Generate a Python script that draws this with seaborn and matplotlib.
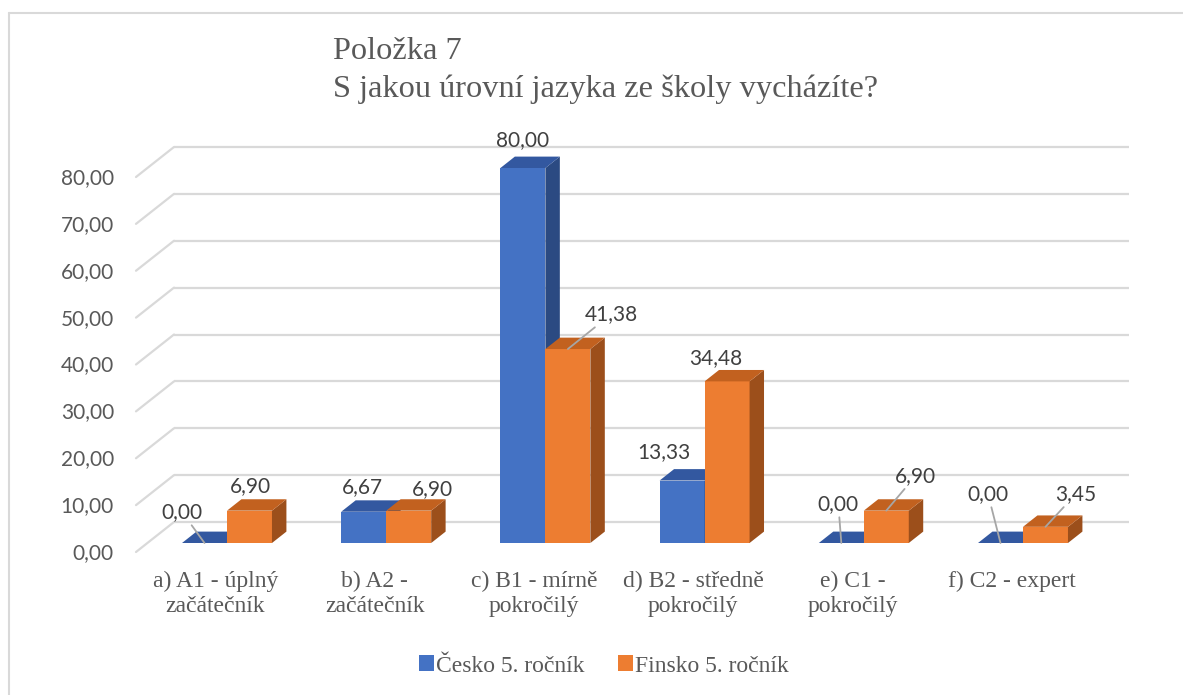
import numpy as np
import pandas as pd
import matplotlib
matplotlib.use("Agg")
import matplotlib.pyplot as plt
import seaborn as sns
from matplotlib.patches import Polygon
from matplotlib.lines import Line2D

# ---------------- data ----------------
categories = ["a) A1 - úplný\nzačátečník", "b) A2 -\nzačátečník", "c) B1 - mírně\npokročilý",
              "d) B2 - středně\npokročilý", "e) C1 -\npokročilý", "f) C2 - expert"]
series_names = ["Česko 5. ročník", "Finsko 5. ročník"]
cesko = [0.00, 6.67, 80.00, 13.33, 0.00, 0.00]
finsko = [6.90, 6.90, 41.38, 34.48, 6.90, 3.45]
y_ticks = [0, 10, 20, 30, 40, 50, 60, 70, 80]
title_text = "Položka 7\nS jakou úrovní jazyka ze školy vycházíte?"

# ---------------- style / layout ----------------
front_colors = ["#4472C4", "#ED7D31"]
top_colors = ["#3358A0", "#C2611F"]
side_colors = ["#2B4A82", "#9C4F1B"]
grid_color = "#D9D9D9"
text_color = "#595959"
label_color = "#404040"
SERIF = "Liberation Serif"
SANS = "Lato"

# label offsets in pixels (right, up) from bar front-top centre
lab_dx = [[-22.5, -1.5, 0.0, -18.5, -3.0, -12.5],
          [0.5, 23.5, 43.5, -11.5, 29.5, 30.5]]
lab_dy = [[31, 25, 28, 28.5, 39, 49],
          [25, 22, 35, 23, 35, 33]]
leader = [[True, False, False, False, True, True],
          [False, False, True, False, True, True]]

# depth geometry (pixels)
DEPTH = np.array([38.0, 30.0])
BAR_PLANE = 0.30
BAR_DEPTH = 0.38

sns.set_theme(style="white")
plt.rcParams["font.family"] = [SANS, "DejaVu Sans"]

W_PX, H_PX = 1183, 695
fig = plt.figure(figsize=(W_PX / 100, H_PX / 100), dpi=100)
ax = fig.add_axes([147.4 / W_PX, (H_PX - 543) / H_PX, 955.2 / W_PX, 375 / H_PX])

df = pd.DataFrame({
    "cat": categories * 2,
    "val": cesko + finsko,
    "series": [series_names[0]] * len(categories) + [series_names[1]] * len(categories),
})
sns.barplot(data=df, x="cat", y="val", hue="series", palette=front_colors,
            width=0.565, saturation=1, linewidth=0, ax=ax)
ax.set_xlim(-0.5, len(categories) - 0.5)
ax.set_ylim(0, 80)
ax.set_xticks([])
ax.set_yticks([])
ax.set_xlabel("")
ax.set_ylabel("")
sns.despine(ax=ax, left=True, bottom=True)
ax.patch.set_alpha(0)

p0 = ax.transData.transform((0, 0))
px_x = ax.transData.transform((1, 0))[0] - p0[0]
px_y = ax.transData.transform((0, 1))[1] - p0[1]
def dxd(p):
    return p / px_x
def dyd(p):
    return p / px_y

x0, x1 = ax.get_xlim()
wall = (1 - BAR_PLANE) * DEPTH
front = -BAR_PLANE * DEPTH
bd = BAR_DEPTH * DEPTH

# back wall gridlines and floor diagonals
for v in y_ticks:
    ax.plot([x0 + dxd(wall[0]), x1 + dxd(wall[0])], [v + dyd(wall[1])] * 2,
            color=grid_color, lw=1.6, zorder=0, clip_on=False, solid_capstyle="butt")
    ax.plot([x0 + dxd(front[0]), x0 + dxd(wall[0])], [v + dyd(front[1]), v + dyd(wall[1])],
            color=grid_color, lw=1.6, zorder=0, clip_on=False)
    ax.annotate(f"{v:.2f}".replace(".", ","), xy=(x0, v), xycoords="data",
                xytext=(front[0] - 22, front[1] - 1), textcoords="offset pixels",
                ha="right", va="center", fontsize=15, color=text_color,
                family=[SANS, "DejaVu Sans"], annotation_clip=False)

# 3D faces
ddx, ddy = dxd(bd[0]), dyd(bd[1])
series_vals = [cesko, finsko]
for s, cont in enumerate(ax.containers):
    zb = 2 + 3 * s
    for i, bar in enumerate(cont):
        x = bar.get_x()
        w = bar.get_width()
        h = bar.get_height()
        bar.set_zorder(zb)
        bar.set_clip_on(False)
        side = Polygon([(x + w, 0), (x + w + ddx, ddy), (x + w + ddx, h + ddy), (x + w, h)],
                       closed=True, facecolor=side_colors[s], edgecolor="none",
                       zorder=zb + 0.5, clip_on=False)
        top = Polygon([(x, h), (x + ddx, h + ddy), (x + w + ddx, h + ddy), (x + w, h)],
                      closed=True, facecolor=top_colors[s], edgecolor="none",
                      zorder=zb + 0.6, clip_on=False)
        ax.add_patch(side)
        ax.add_patch(top)
        val = series_vals[s][i]
        arrow = dict(arrowstyle="-", color="#A6A6A6", lw=1.3, shrinkA=0, shrinkB=0) if leader[s][i] else None
        ax.annotate(f"{val:.2f}".replace(".", ","), xy=(x + w / 2, h), xycoords="data",
                    xytext=(lab_dx[s][i], lab_dy[s][i]), textcoords="offset pixels",
                    ha="center", va="center", fontsize=15, color=label_color,
                    family=[SANS, "DejaVu Sans"], arrowprops=arrow,
                    annotation_clip=False, zorder=10)

# category labels
for i, cat in enumerate(categories):
    ax.annotate(cat, xy=(i, 0), xycoords="data",
                xytext=(front[0], front[1] - 19), textcoords="offset pixels",
                ha="center", va="top", fontsize=17, color=text_color,
                family=[SERIF, "DejaVu Serif"], linespacing=1.25, annotation_clip=False)

# legend
sns.move_legend(ax, "center", bbox_to_anchor=(604 / W_PX, 1 - 666 / H_PX),
                bbox_transform=fig.transFigure, ncol=2, frameon=False, title=None,
                prop={"family": SERIF, "size": 17}, labelcolor=text_color,
                handlelength=0.64, handleheight=0.64, handletextpad=0.08,
                columnspacing=1.4)

# title
fig.text(333 / W_PX, 1 - 37 / H_PX, title_text, ha="left", va="top", fontsize=23.3,
         color=text_color, family=[SERIF, "DejaVu Serif"], linespacing=1.36)

# chart frame (left and top edges)
fig.add_artist(Line2D([9 / W_PX, 9 / W_PX], [0, 1 - 13 / H_PX], transform=fig.transFigure,
                      color=grid_color, lw=1.5))
fig.add_artist(Line2D([9 / W_PX, 1], [1 - 13 / H_PX, 1 - 13 / H_PX], transform=fig.transFigure,
                      color=grid_color, lw=1.5))

fig.savefig("out.png", dpi=100)
